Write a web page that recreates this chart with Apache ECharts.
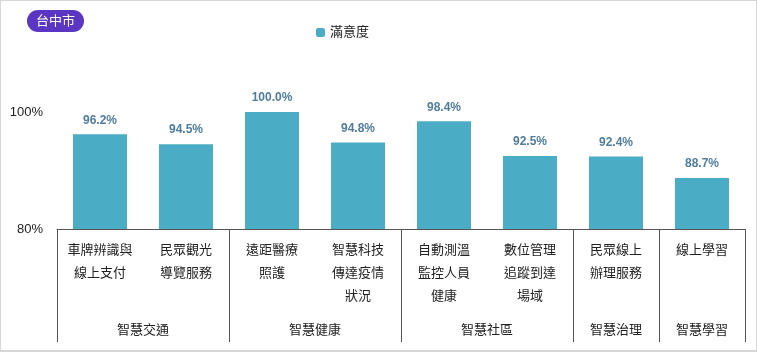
<!DOCTYPE html>
<html>
<head>
<meta charset="utf-8">
<script src="https://cdn.jsdelivr.net/npm/echarts@6/dist/echarts.min.js"></script>
<style>
  html, body { margin: 0; padding: 0; background: #fff; }
  .chartBox {
    width: 757px;
    height: 352px;
    box-sizing: border-box;
    border: 1px solid #d6d6d6;
    border-bottom-width: 2px;
  }
</style>
</head>
<body>
<div class="chartBox" id="main"></div>
<script>
// 項目名稱
const categories = [
  "車牌辨識與\n線上支付",
  "民眾觀光\n導覽服務",
  "遠距醫療\n照護",
  "智慧科技\n傳達疫情\n狀況",
  "自動測溫\n監控人員\n健康",
  "數位管理\n追蹤到達\n場域",
  "民眾線上\n辦理服務",
  "線上學習"
];
// 滿意度 (%)
const satisfaction = [96.2, 94.5, 100.0, 94.8, 98.4, 92.5, 92.4, 88.7];
// 分組與各組項目數
const groupNames = ["智慧交通", "智慧健康", "智慧社區", "智慧治理", "智慧學習"];
const groupSpans = [2, 2, 2, 1, 1];
const yTicks = [80, 100];

const font = "'Liberation Sans', 'Noto Sans CJK TC', sans-serif";

// 分組邊界 (類別 index) 與中心位置
const boundaries = [];
const groupCenters = {};
let acc = 0;
groupSpans.forEach((span, i) => {
  boundaries.push(acc);
  groupCenters[acc + span / 2] = groupNames[i];
  acc += span;
});

const chart = echarts.init(document.getElementById("main"));

chart.setOption({
  animation: false,
  title: {
    text: "台中市",
    left: 26,
    top: 9,
    backgroundColor: "#5b36c2",
    borderRadius: 11,
    padding: [5, 9, 4, 9],
    textStyle: { color: "#fff", fontSize: 13, fontWeight: "normal", fontFamily: font }
  },
  legend: {
    top: 20,
    left: 310,
    itemWidth: 9,
    itemHeight: 9,
    itemGap: 4,
    textStyle: { fontSize: 13, color: "#222", fontFamily: font },
    data: ["滿意度"]
  },
  grid: { left: 56, right: 11, top: 111, bottom: 121, containLabel: false },
  xAxis: [
    {
      type: "category",
      data: categories,
      axisLine: { lineStyle: { color: "#555", width: 1 } },
      axisTick: {
        show: true,
        length: 113,
        interval: (i) => boundaries.includes(i),
        lineStyle: { color: "#555" }
      },
      axisLabel: {
        interval: 0,
        margin: 10,
        lineHeight: 23,
        fontSize: 13,
        color: "#222",
        fontFamily: font,
        verticalAlign: "top"
      }
    },
    {
      type: "value",
      position: "bottom",
      min: 0,
      max: acc,
      interval: 0.5,
      offset: 95,
      axisLine: { show: false },
      axisTick: { show: false },
      splitLine: { show: false },
      axisLabel: {
        showMinLabel: true,
        showMaxLabel: true,
        hideOverlap: false,
        margin: 0,
        fontSize: 13,
        color: "#222",
        fontFamily: font,
        formatter: (v) => groupCenters[v] || ""
      }
    }
  ],
  yAxis: {
    type: "value",
    min: yTicks[0],
    max: yTicks[yTicks.length - 1],
    interval: 20,
    axisLine: { show: false },
    axisTick: { show: false },
    splitLine: { show: false },
    axisLabel: {
      margin: 14,
      fontSize: 13,
      color: "#222",
      fontFamily: font,
      formatter: "{value}%"
    }
  },
  series: [
    {
      name: "滿意度",
      type: "bar",
      xAxisIndex: 0,
      barWidth: 54,
      data: satisfaction,
      itemStyle: { color: "#4bacc6" },
      label: {
        show: true,
        position: "top",
        distance: 8,
        fontSize: 12,
        fontWeight: "bold",
        color: "#4f7d9e",
        fontFamily: font,
        formatter: (p) => p.value.toFixed(1) + "%"
      }
    }
  ]
});
</script>
</body>
</html>
